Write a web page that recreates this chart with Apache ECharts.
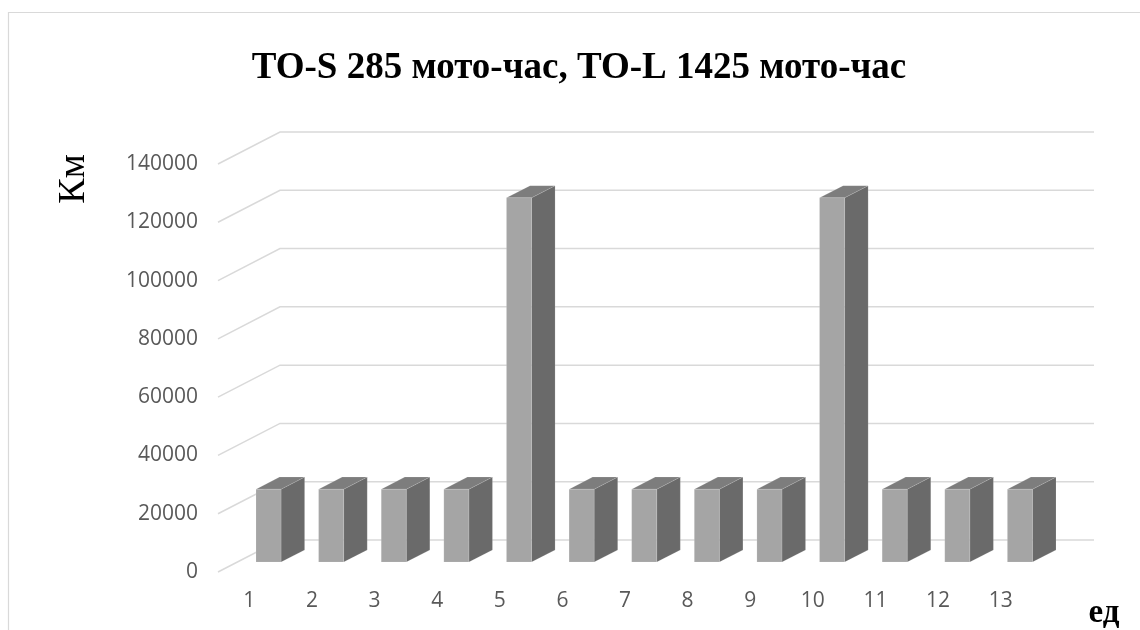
<!DOCTYPE html>
<html>
<head>
<meta charset="utf-8">
<script src="https://cdn.jsdelivr.net/npm/echarts@6/dist/echarts.min.js"></script>
<style>
  html, body { margin: 0; padding: 0; background: #fff; }
  #chart { width: 1140px; height: 630px; }
</style>
</head>
<body>
<div id="chart"></div>
<script>
// Units (ед) along the bottom, kilometres (Км) up the side
const categories = ['1', '2', '3', '4', '5', '6', '7', '8', '9', '10', '11', '12', '13'];
const kmValues = [25000, 25000, 25000, 25000, 125000, 25000, 25000, 25000, 25000, 125000, 25000, 25000, 25000];
const yTicks = [0, 20000, 40000, 60000, 80000, 100000, 120000, 140000];

const titleText = 'TO-S 285 мото-час, TO-L 1425 мото-час';
const yTitle = 'Км';
const xTitle = 'ед';

// oblique depth of the floor, front edge to back wall (px)
const DEPTH_X = 62;
const DEPTH_Y = 32;
// bar front and back faces as fractions of that depth
const BAR_FRONT = 0.31;
const BAR_BACK = 0.69;
const BAR_WIDTH = 0.4;

const FRONT = '#a5a5a5';
const SIDE = '#6a6a6a';
const TOP = '#7d7d7d';
const GRID = '#d9d9d9';

const chart = echarts.init(document.getElementById('chart'), null, { renderer: 'canvas' });

function renderGridLine(params, api) {
  const cs = params.coordSys;
  const y = api.coord([0, api.value(1)])[1];
  const x0 = cs.x;
  const x1 = cs.x + cs.width;
  return {
    type: 'polyline',
    shape: { points: [[x0, y], [x0 + DEPTH_X, y - DEPTH_Y], [x1 + DEPTH_X, y - DEPTH_Y]] },
    style: { stroke: GRID, lineWidth: 1.5, fill: null }
  };
}

function renderBar(params, api) {
  const idx = api.value(0);
  const top = api.coord([idx, api.value(1)]);
  const base = api.coord([idx, 0]);
  const w = api.size([1, 0])[0] * BAR_WIDTH;
  const fx = DEPTH_X * BAR_FRONT, fy = DEPTH_Y * BAR_FRONT;
  const bx = DEPTH_X * BAR_BACK, by = DEPTH_Y * BAR_BACK;
  const l = top[0] - w / 2, r = top[0] + w / 2;
  const ft = top[1], fb = base[1];
  // corner points
  const FL_T = [l + fx, ft - fy], FR_T = [r + fx, ft - fy];
  const FR_B = [r + fx, fb - fy];
  const BL_T = [l + bx, ft - by], BR_T = [r + bx, ft - by];
  const BR_B = [r + bx, fb - by];
  const edge = { stroke: 'rgba(255,255,255,0.2)', lineWidth: 0.6 };
  return {
    type: 'group',
    children: [
      { type: 'polygon', shape: { points: [FR_T, BR_T, BR_B, FR_B] },
        style: Object.assign({ fill: SIDE }, edge) },
      { type: 'polygon', shape: { points: [FL_T, FR_T, BR_T, BL_T] },
        style: Object.assign({ fill: TOP }, edge) },
      { type: 'rect', shape: { x: l + fx, y: ft - fy, width: w, height: fb - ft },
        style: Object.assign({ fill: FRONT }, edge) }
    ]
  };
}

const option = {
  backgroundColor: '#ffffff',
  animation: false,
  title: {
    text: titleText,
    left: 574,
    top: 45,
    textAlign: 'center',
    textStyle: { fontFamily: 'Liberation Serif', fontWeight: 'bold', fontSize: 37, color: '#000' }
  },
  grid: { left: 218, top: 164, width: 814, height: 408, containLabel: false },
  xAxis: {
    type: 'category',
    data: categories,
    axisLine: { show: false },
    axisTick: { show: false },
    splitLine: { show: false },
    axisLabel: { margin: 19, fontFamily: 'Open Sans', fontSize: 21, color: '#595959' }
  },
  yAxis: {
    type: 'value',
    min: 0,
    max: 140000,
    interval: 20000,
    axisLine: { show: false },
    axisTick: { show: false },
    splitLine: { show: false },
    axisLabel: { margin: 20, fontFamily: 'Open Sans', fontSize: 21, color: '#595959',
                 formatter: v => String(v) }
  },
  graphic: [
    { type: 'rect', z: -10, silent: true,
      shape: { x: 8.5, y: 12.5, width: 1200, height: 700 },
      style: { fill: null, stroke: '#d9d9d9', lineWidth: 1.2 } },
    { type: 'text', x: 74, y: 179, rotation: Math.PI / 2,
      style: { text: yTitle, fontFamily: 'Liberation Serif', fontSize: 38, fill: '#000',
               textAlign: 'center', textVerticalAlign: 'middle' } },
    { type: 'text', x: 1104, y: 613,
      style: { text: xTitle, fontFamily: 'Liberation Serif', fontWeight: 'bold', fontSize: 33, fill: '#000',
               textAlign: 'center', textVerticalAlign: 'middle' } }
  ],
  series: [
    {
      type: 'custom',
      name: 'grid',
      silent: true,
      z: 1,
      renderItem: renderGridLine,
      encode: { x: 0, y: 1 },
      data: yTicks.map(v => [0, v])
    },
    {
      type: 'custom',
      name: 'Км',
      z: 2,
      renderItem: renderBar,
      encode: { x: 0, y: 1 },
      data: kmValues.map((v, i) => [i, v])
    }
  ]
};

chart.setOption(option);
</script>
</body>
</html>
